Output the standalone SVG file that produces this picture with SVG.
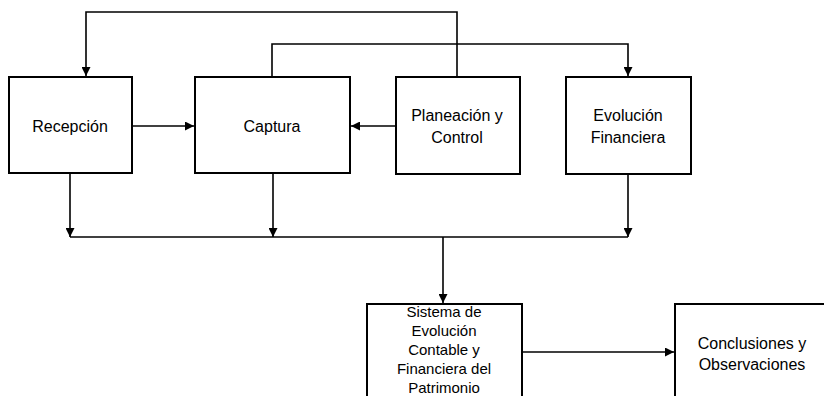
<svg xmlns="http://www.w3.org/2000/svg" width="824" height="396" viewBox="0 0 824 396">
<style>
.box{fill:#fff;stroke:#000;stroke-width:2}
.t{font-family:"Liberation Sans",Arial,sans-serif;font-size:16px;fill:#000;text-anchor:middle}
.ts{font-family:"Liberation Sans",Arial,sans-serif;font-size:15px;fill:#000;text-anchor:middle}
.c{fill:none;stroke:#000;stroke-width:1.6}
</style>
<defs>
<marker id="ah" markerUnits="userSpaceOnUse" markerWidth="9" markerHeight="9" refX="9" refY="4.5" orient="auto">
<path d="M0,0 L9,4.5 L0,9 z" fill="#000"/>
</marker>
</defs>
<rect width="824" height="396" fill="#fff"/>
<g id="connectors">
<path class="c" d="M457,77 V12 H86 V76" marker-end="url(#ah)"/>
<path class="c" d="M272,77 V44 H628 V76" marker-end="url(#ah)"/>
<path class="c" d="M132,126 H194" marker-end="url(#ah)"/>
<path class="c" d="M396,126 H351" marker-end="url(#ah)"/>
<path class="c" d="M70,173 V237" marker-end="url(#ah)"/>
<path class="c" d="M273,173 V237" marker-end="url(#ah)"/>
<path class="c" d="M628,174 V237" marker-end="url(#ah)"/>
<path class="c" d="M70,237 H628"/>
<path class="c" d="M443,237 V303" marker-end="url(#ah)"/>
<path class="c" d="M522,352 H674" marker-end="url(#ah)"/>
</g>
<g id="recepcion">
<rect class="box" x="9" y="77" width="123" height="96"/>
<text class="t" x="70" y="132">Recepción</text>
</g>
<g id="captura">
<rect class="box" x="195" y="77" width="155" height="96"/>
<text class="t" x="272" y="132">Captura</text>
</g>
<g id="planeacion">
<rect class="box" x="396" y="77" width="124" height="97"/>
<text class="t" x="457" y="121">Planeación y</text>
<text class="t" x="457" y="143">Control</text>
</g>
<g id="evolucion">
<rect class="box" x="566" y="77" width="125" height="97"/>
<text class="t" x="628" y="121">Evolución</text>
<text class="t" x="628" y="143">Financiera</text>
</g>
<g id="sistema">
<rect class="box" x="367" y="304" width="155" height="100"/>
<text class="ts" x="444" y="317">Sistema de</text>
<text class="ts" x="444" y="336">Evolución</text>
<text class="ts" x="444" y="355">Contable y</text>
<text class="ts" x="444" y="374">Financiera del</text>
<text class="ts" x="444" y="393">Patrimonio</text>
</g>
<g id="conclusiones">
<rect class="box" x="675" y="304" width="160" height="100"/>
<text class="t" x="752" y="349">Conclusiones y</text>
<text class="t" x="752" y="370">Observaciones</text>
</g>
</svg>
